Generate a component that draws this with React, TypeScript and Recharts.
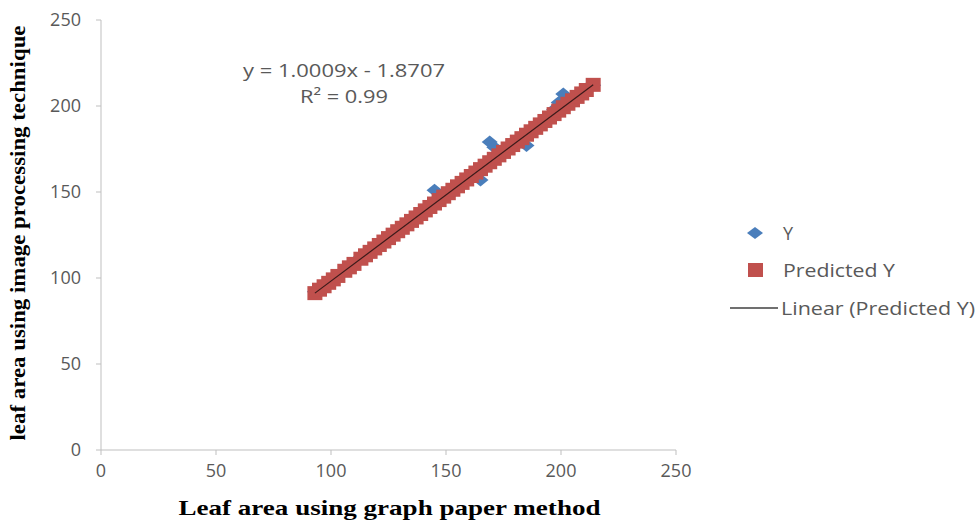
import React from "react";
import { ScatterChart, Scatter, XAxis, YAxis } from "recharts";

// leaf area by graph paper (x), image processing measured (Y), regression fit (Predicted Y)
const xValues = [
  93, 95, 97, 99, 101, 103, 106, 108, 110, 113, 115, 117, 119, 121, 123, 125,
  127, 129, 131, 133, 135, 137, 139, 141, 143, 145, 147, 149, 151, 153, 155,
  157, 159, 161, 163, 165, 167, 169, 171, 173, 175, 177, 179, 181, 183, 185,
  187, 189, 191, 193, 195, 197, 199, 201, 203, 205, 207, 209, 211, 214,
];
const yValues = [
  92, 92, 96, 98, 99, 101, 104, 106, 109, 111, 113, 115, 117, 120, 121, 123,
  125, 127, 129, 131, 133, 135, 137, 139, 142, 151, 147, 147, 149, 150, 154,
  156, 157, 159, 161, 157, 165, 179, 176, 171, 173, 176, 177, 179, 181, 177,
  185, 187, 190, 192, 193, 198, 202, 207, 202, 203, 205, 207, 210, 212,
];
const predictedValues = [
  91.2, 93.2, 95.2, 97.2, 99.2, 101.2, 104.2, 106.2, 108.2, 111.2, 113.2,
  115.2, 117.2, 119.2, 121.2, 123.2, 125.2, 127.2, 129.2, 131.2, 133.2, 135.2,
  137.2, 139.3, 141.3, 143.3, 145.3, 147.3, 149.3, 151.3, 153.3, 155.3, 157.3,
  159.3, 161.3, 163.3, 165.3, 167.3, 169.3, 171.3, 173.3, 175.3, 177.3, 179.3,
  181.3, 183.3, 185.3, 187.3, 189.3, 191.3, 193.3, 195.3, 197.3, 199.3, 201.3,
  203.3, 205.3, 207.3, 209.3, 212.3,
];
const trendX = [93, 214];
const trendY = [91.2, 212.3];
const axisTicks = [0, 50, 100, 150, 200, 250];

const actualData = xValues.map((x, i) => ({ x, y: yValues[i] }));
const predictedData = xValues.map((x, i) => ({ x, y: predictedValues[i] }));
const trendData = trendX.map((x, i) => ({ x, y: trendY[i] }));

const font = "'Open Sans', sans-serif";
const serif = "'Liberation Serif', 'Times New Roman', serif";
const grey = "#595959";
const blue = "#4a7ebb";
const red = "#c0504d";

function Diamond(props: any) {
  const { cx, cy } = props;
  return (
    <polygon
      points={`${cx},${cy - 6.5} ${cx + 8},${cy} ${cx},${cy + 6.5} ${cx - 8},${cy}`}
      fill={blue}
    />
  );
}

function Square(props: any) {
  const { cx, cy } = props;
  return <rect x={cx - 7.5} y={cy - 7} width={15} height={14} fill={red} />;
}

function XTitle(props: any) {
  const { viewBox } = props;
  return (
    <text
      x={viewBox.x + viewBox.width / 2 + 1}
      y={515}
      textAnchor="middle"
      fontFamily={serif}
      fontWeight={700}
      fontSize={22}
      textLength={422}
      lengthAdjust="spacingAndGlyphs"
      fill="#000"
    >
      Leaf area using graph paper method
    </text>
  );
}

function YTitle() {
  const cy = 233;
  return (
    <text
      x={25}
      y={cy}
      transform={`rotate(-90 25 ${cy})`}
      textAnchor="middle"
      fontFamily={serif}
      fontWeight={700}
      fontSize={22}
      textLength={415}
      lengthAdjust="spacingAndGlyphs"
      fill="#000"
    >
      leaf area using image processing technique
    </text>
  );
}

function LegendBox() {
  return (
    <svg width={266} height={110} style={{ position: "absolute", left: 712, top: 214 }}>
      <polygon points="43,13 51,19 43,25 35,19" fill={blue} />
      <text x={71} y={26} fontFamily={font} fontSize={18} fill={grey}>Y</text>
      <rect x={36} y={49} width={15} height={14} fill={red} />
      <text x={71} y={63} fontFamily={font} fontSize={18} fill={grey} textLength={112} lengthAdjust="spacingAndGlyphs">
        Predicted Y
      </text>
      <line x1={18} y1={94} x2={66} y2={94} stroke="#404040" strokeWidth={1.5} />
      <text x={69} y={101} fontFamily={font} fontSize={18} fill={grey} textLength={194} lengthAdjust="spacingAndGlyphs">
        Linear (Predicted Y)
      </text>
    </svg>
  );
}

export default function App() {
  return (
    <div style={{ position: "absolute", left: 0, top: 0, width: 978, height: 521, background: "#fff" }}>
      <ScatterChart
        width={978}
        height={521}
        margin={{ top: 20, right: 302, bottom: 41, left: 41 }}
      >
        <XAxis
          type="number"
          dataKey="x"
          domain={[0, 250]}
          ticks={axisTicks}
          stroke="#bfbfbf"
          tickSize={5}
          tickMargin={9}
          height={30}
          tick={{ fill: grey, fontSize: 18, fontFamily: font }}
          label={<XTitle />}
        />
        <YAxis
          type="number"
          dataKey="y"
          domain={[0, 250]}
          ticks={axisTicks}
          stroke="#bfbfbf"
          tickSize={5}
          tickMargin={15}
          width={60}
          tick={{ fill: grey, fontSize: 18, fontFamily: font }}
          label={<YTitle />}
        />
        <Scatter name="Y" data={actualData} fill={blue} shape={<Diamond />} isAnimationActive={false} />
        <Scatter name="Predicted Y" data={predictedData} fill={red} shape={<Square />} isAnimationActive={false} />
        <Scatter
          name="Linear (Predicted Y)"
          data={trendData}
          line={{ stroke: "#3a1a1a", strokeWidth: 1.2 }}
          shape={() => <g />}
          isAnimationActive={false}
        />
        <text x={344} y={77} textAnchor="middle" fontFamily={font} fontSize={18} fill={grey} textLength={202} lengthAdjust="spacingAndGlyphs">
          y = 1.0009x - 1.8707
        </text>
        <text x={344} y={103} textAnchor="middle" fontFamily={font} fontSize={18} fill={grey} textLength={88} lengthAdjust="spacingAndGlyphs">
          R² = 0.99
        </text>
      </ScatterChart>
      <LegendBox />
    </div>
  );
}
